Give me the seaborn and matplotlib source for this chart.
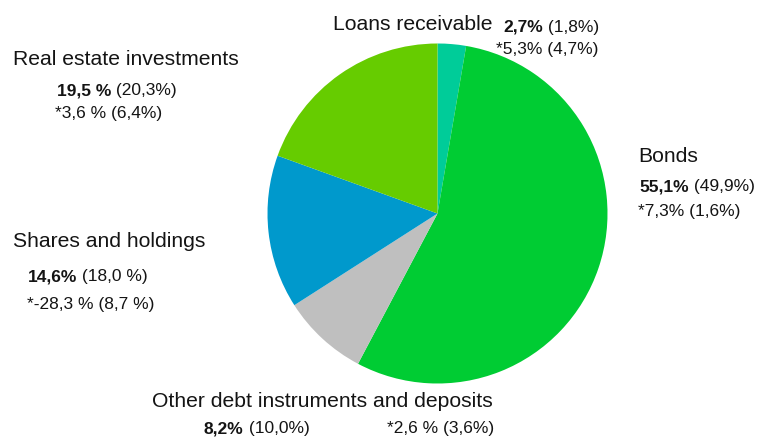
import matplotlib
matplotlib.use("Agg")
import matplotlib.pyplot as plt
import seaborn as sns

# ---- data ----
categories = ["Loans receivable", "Bonds", "Other debt instruments and deposits",
              "Shares and holdings", "Real estate investments"]
shares = [2.7, 55.1, 8.2, 14.6, 19.5]
share_labels = ["2,7%", "55,1%", "8,2%", "14,6%", "19,5 %"]
prev_share_labels = ["(1,8%)", "(49,9%)", "(10,0%)", "(18,0 %)", "(20,3%)"]
return_labels = ["*5,3% (4,7%)", "*7,3% (1,6%)", "*2,6 % (3,6%)",
                 "*-28,3 % (8,7 %)", "*3,6 % (6,4%)"]

palette = ["#00CC99", "#00CC33", "#BFBFBF", "#0099CC", "#66CC00"]

sns.set_theme(style="white")
plt.rcParams["font.family"] = ["Liberation Sans", "DejaVu Sans"]

W, H = 763, 437
fig = plt.figure(figsize=(W / 100, H / 100), dpi=100, facecolor="white")
ax = fig.add_axes([0, 0, 1, 1])


def py(y):
    return H - y


ax.pie(shares, colors=sns.color_palette(palette), startangle=90, counterclock=False,
       center=(437.5, py(213.5)), radius=170, wedgeprops=dict(linewidth=0))
ax.set_xlim(0, W)
ax.set_ylim(0, H)
ax.set_aspect("equal")
ax.axis("off")

TXT = "#141414"
HEAD_FS = 15.2
NUM_FS = 12.5

# layout: (heading pos, share line pos, return line pos) in pixel coords (left, baseline)
layout = {
    0: ((333, 30), (503, 32), (496, 54)),
    1: ((638, 162), (639, 191), (638, 216)),
    2: ((152, 407), (204, 433), (387, 433)),
    3: ((13, 247), (28, 281), (27, 309)),
    4: ((13, 65), (57, 95), (55, 118)),
}

for i, name in enumerate(categories):
    (hx, hy), (sx, sy), (rx, ry) = layout[i]
    ax.text(hx, py(hy), name, fontsize=HEAD_FS, color=TXT, ha="left", va="baseline")
    t = ax.text(sx, py(sy), share_labels[i], fontsize=NUM_FS, fontweight="bold",
                color=TXT, ha="left", va="baseline")
    ax.annotate(" " + prev_share_labels[i], xy=(1, 0), xycoords=t, fontsize=NUM_FS,
                color=TXT, ha="left", va="bottom")
    ax.text(rx, py(ry), return_labels[i], fontsize=NUM_FS, color=TXT,
            ha="left", va="baseline")

fig.savefig("out.png", dpi=100, facecolor="white")
